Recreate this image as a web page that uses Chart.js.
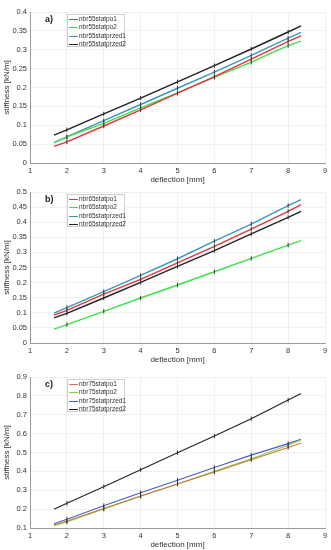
<!DOCTYPE html>
<html>
<head>
<meta charset="utf-8">
<script src="https://cdn.jsdelivr.net/npm/chart.js@4/dist/chart.umd.min.js"></script>
<style>
  html,body{margin:0;padding:0;background:#fff;width:331px;height:550px;overflow:hidden;font-family:"Liberation Sans",Arial,sans-serif;}
  .panel{position:absolute;left:0;width:331px;height:185px;}
  .panel canvas{position:absolute;left:0;top:0;}
  .tag{position:absolute;left:45px;top:14px;font-size:9px;font-weight:bold;color:#222;}
  .legend{position:absolute;left:67px;top:14px;width:56px;height:31px;border:1px solid #d0d0d0;background:#fff;font-size:6.5px;color:#333;}
  .legend div{position:relative;height:8.3px;line-height:8px;padding-left:11px;white-space:nowrap;}
  .legend div span{position:absolute;left:1px;top:4px;width:9px;height:0;border-top:1.2px solid;}
</style>
</head>
<body>
<script>
// deflection [mm] sample positions
const deflection = [1.65, 2, 3, 4, 5, 6, 7, 8, 8.35];

// panel a) nbr55
const names55 = ["nbr55statpo1", "nbr55statpo2", "nbr55statprzed1", "nbr55statprzed2"];
const nbr55statpo1    = [0.044, 0.056, 0.098, 0.141, 0.185, 0.229, 0.275, 0.322, 0.337];
const nbr55statpo2    = [0.054, 0.069, 0.105, 0.146, 0.186, 0.227, 0.267, 0.311, 0.323];
const nbr55statprzed1 = [0.054, 0.069, 0.112, 0.155, 0.198, 0.241, 0.285, 0.331, 0.346];
const nbr55statprzed2 = [0.074, 0.088, 0.130, 0.172, 0.215, 0.258, 0.302, 0.347, 0.363];

// panel b) nbr65
const names65 = ["nbr65statpo1", "nbr65statpo2", "nbr65statprzed1", "nbr65statprzed2"];
const nbr65statpo1    = [0.092, 0.108, 0.162, 0.211, 0.265, 0.320, 0.377, 0.436, 0.458];
const nbr65statpo2    = [0.046, 0.061, 0.105, 0.149, 0.192, 0.236, 0.280, 0.324, 0.339];
const nbr65statprzed1 = [0.099, 0.117, 0.170, 0.224, 0.279, 0.337, 0.394, 0.455, 0.475];
const nbr65statprzed2 = [0.083, 0.098, 0.149, 0.201, 0.254, 0.306, 0.361, 0.416, 0.436];

// panel c) nbr75
const names75 = ["nbr75statpo1", "nbr75statpo2", "nbr75statprzed1", "nbr75statprzed2"];
const nbr75statpo1    = [0.116, 0.137, 0.203, 0.270, 0.333, 0.397, 0.462, 0.527, 0.550];
const nbr75statpo2    = [0.112, 0.132, 0.201, 0.268, 0.333, 0.400, 0.467, 0.538, 0.566];
const nbr75statprzed1 = [0.123, 0.146, 0.218, 0.287, 0.353, 0.420, 0.486, 0.547, 0.570];
const nbr75statprzed2 = [0.199, 0.231, 0.319, 0.409, 0.499, 0.587, 0.679, 0.778, 0.813];

// axis ticks
const xTicks = [1, 2, 3, 4, 5, 6, 7, 8, 9];
const yRangeA = [0, 0.4, 0.05];
const yRangeB = [0, 0.5, 0.05];
const yRangeC = [0.1, 0.9, 0.1];

const colorsAB = ["#e8343e", "#3ee04a", "#3a98b8", "#222222"];
const colorsC  = ["#c8784a", "#8ccc3a", "#4a5cc8", "#222222"];

function makePanel(top, tag, names, series, colors, yr, lw) {
  const div = document.createElement('div');
  div.className = 'panel';
  div.style.top = top + 'px';
  const cv = document.createElement('canvas');
  cv.width = 331; cv.height = 185;
  cv.style.width = '331px'; cv.style.height = '185px';
  div.appendChild(cv);
  const t = document.createElement('div');
  t.className = 'tag'; t.textContent = tag;
  div.appendChild(t);
  const lg = document.createElement('div');
  lg.className = 'legend';
  names.forEach((n, i) => {
    const row = document.createElement('div');
    const s = document.createElement('span');
    s.style.borderTopColor = colors[i];
    row.appendChild(s);
    row.appendChild(document.createTextNode(n));
    lg.appendChild(row);
  });
  div.appendChild(lg);
  document.body.appendChild(div);

  const datasets = series.map((vals, i) => ({
    label: names[i],
    data: vals.map((v, k) => ({x: deflection[k], y: v})),
    borderColor: colors[i],
    backgroundColor: colors[i],
    borderWidth: lw,
    pointStyle: 'line',
    pointRotation: 90,
    pointRadius: vals.map((v, k) => (k === 0 || k === vals.length - 1) ? 0 : 2.2),
    pointBorderWidth: 1,
    pointBorderColor: '#333',
    tension: 0,
    fill: false
  }));

  new Chart(cv, {
    type: 'line',
    data: { datasets },
    options: {
      responsive: false,
      animation: false,
      events: [],
      layout: { padding: { top: 12, right: 6, left: 0, bottom: 0 } },
      plugins: { legend: { display: false }, tooltip: { enabled: false } },
      scales: {
        x: {
          type: 'linear', min: 1, max: 9,
          afterBuildTicks: ax => { ax.ticks = xTicks.map(v => ({value: v})); },
          afterFit: ax => { ax.height = 22; },
          grid: { color: '#ececec', lineWidth: 0.8, drawTicks: false },
          border: { color: '#9a9a9a' },
          ticks: { font: { family: 'Liberation Sans', size: 7.5 }, color: '#333', padding: 3, maxRotation: 0 },
          title: { display: true, text: 'deflection [mm]', font: { family: 'Liberation Sans', size: 8 }, color: '#333', padding: { top: 0, bottom: 0 } }
        },
        y: {
          type: 'linear', min: yr[0], max: yr[1],
          ticks: { stepSize: yr[2], font: { family: 'Liberation Sans', size: 7.5 }, color: '#333', padding: 3,
                   callback: v => String(+v.toFixed(2)) },
          afterFit: ax => { ax.width = 30; },
          grid: { color: '#ececec', lineWidth: 0.8, drawTicks: false },
          border: { color: '#9a9a9a' },
          title: { display: true, text: 'stiffness [kN/m]', font: { family: 'Liberation Sans', size: 8 }, color: '#333', padding: { top: 2, bottom: 0 } }
        }
      }
    }
  });
}

makePanel(0, 'a)', names55, [nbr55statpo1, nbr55statpo2, nbr55statprzed1, nbr55statprzed2], colorsAB, yRangeA, 1.4);
makePanel(180, 'b)', names65, [nbr65statpo1, nbr65statpo2, nbr65statprzed1, nbr65statprzed2], colorsAB, yRangeB, 1.4);
makePanel(365, 'c)', names75, [nbr75statpo1, nbr75statpo2, nbr75statprzed1, nbr75statprzed2], colorsC, yRangeC, 1.1);
</script>
</body>
</html>
